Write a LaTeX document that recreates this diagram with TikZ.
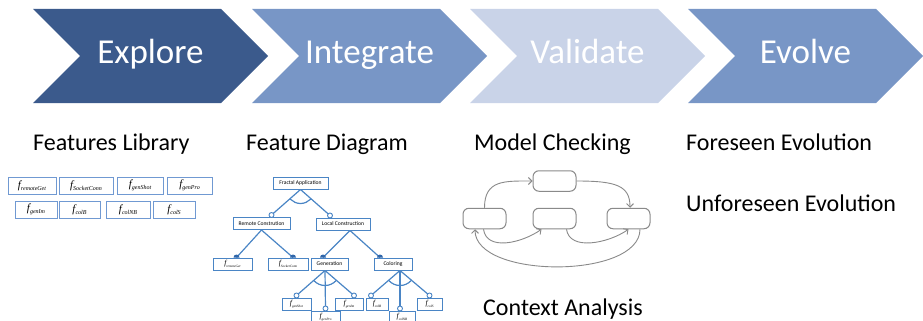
\documentclass[tikz,border=0pt]{standalone}
\usepackage{fontspec}
\setmainfont{Carlito}
\newfontfamily\fserif{Liberation Serif}
\usetikzlibrary{arrows.meta}

\definecolor{chevdark}{HTML}{3B5A8C}
\definecolor{chevmid}{HTML}{7896C6}
\definecolor{chevlight}{HTML}{C9D3E8}
\definecolor{fdblue}{HTML}{4A85C5}
\definecolor{fddot}{HTML}{2F66AA}
\definecolor{libblue}{HTML}{7099D2}
\definecolor{mcgray}{HTML}{8A8A8A}

% feature name with a subscript, library size and diagram size
\newcommand\libfeat[1]{{\fserif\itshape\fontsize{11}{11}\selectfont f}\raisebox{-2.5pt}{\fserif\itshape\fontsize{6}{6}\selectfont #1}}
\newcommand\leaffeat[1]{{\fserif\itshape\fontsize{7.5}{7.5}\selectfont f}\raisebox{-1.5pt}{\fserif\itshape\fontsize{3.4}{3.4}\selectfont #1}}

\tikzset{
  chevtext/.style={text=white, font=\fontsize{35}{42}\selectfont, anchor=base, inner sep=0pt},
  phase/.style={font=\fontsize{24}{29}\selectfont, anchor=base west, inner sep=0pt},
  libbox/.style={draw=libblue, line width=0.8pt, fill=white, minimum height=17pt, inner sep=0pt},
  fdbox/.style={draw=fdblue, line width=1pt, fill=white, minimum height=12pt, inner sep=0pt, font=\fontsize{5.6}{6}\selectfont},
  fdedge/.style={draw=fdblue, line width=1.2pt},
  optdot/.style={draw=fdblue, line width=0.9pt, fill=white},
  mandot/.style={fill=fddot},
  mcbox/.style={draw=mcgray, line width=1pt, fill=white, rounded corners=6pt, minimum width=43pt, minimum height=20.5pt},
  mcarrow/.style={draw=mcgray, line width=0.9pt, -{Straight Barb[length=3.5pt,width=7pt]}}
}

\begin{document}
\begin{tikzpicture}[x=1pt, y=-1pt]
\useasboundingbox (0,0) rectangle (923,321);

% process chevrons
\foreach \x/\c/\t/\n in {33/chevdark/Explore/explore, 252/chevmid/Integrate/integrate, 470/chevlight/Validate/validate, 688/chevmid/Evolve/evolve}{
  \fill[\c] (\x,9) -- ++(188,0) -- ++(47,47) -- ++(-47,47) -- ++(-188,0) -- ++(47,-47) -- cycle;
  \node[chevtext] (\n) at (\x+117.5,63.5) {\t};
}

% phase labels
\node[phase] (lib)     at (33,150.5)  {Features Library};
\node[phase] (fdiag)   at (246,150.5) {Feature Diagram};
\node[phase] (mcheck)  at (474,150.5) {Model Checking};
\node[phase] (foresee) at (686,150.5) {Foreseen Evolution};
\node[phase] (unfore)  at (686,211)   {Unforeseen Evolution};
\node[phase] (context) at (483,315)   {Context Analysis};

% features library
\node[libbox, minimum width=48pt] (l1) at (32,185.5)   {\libfeat{remoteGet}};
\node[libbox, minimum width=54pt] (l2) at (86,185.5)   {\libfeat{SocketConn}};
\node[libbox, minimum width=46pt] (l3) at (140,185.5)  {\libfeat{genShot}};
\node[libbox, minimum width=45pt] (l4) at (189.5,185.5){\libfeat{genPro}};
\node[libbox, minimum width=42pt] (l5) at (36,209.5)   {\libfeat{genIm}};
\node[libbox, minimum width=41pt] (l6) at (79.5,209.5) {\libfeat{colB}};
\node[libbox, minimum width=44pt] (l7) at (128,209.5)  {\libfeat{colNB}};
\node[libbox, minimum width=42pt] (l8) at (174,209.5)  {\libfeat{colS}};

% feature diagram boxes
\node[fdbox, minimum width=55pt] (fa)  at (300.5,183) {Fractal Application};
\node[fdbox, minimum width=57pt] (rc)  at (261.5,223.5) {Remote Constrution};
\node[fdbox, minimum width=54pt] (lc)  at (343,224) {Local Construction};
\node[fdbox, minimum width=39pt] (frg) at (232.5,264) {\leaffeat{remoteGet}};
\node[fdbox, minimum width=40pt] (fsc) at (288,264) {\leaffeat{SocketConn}};
\node[fdbox, minimum width=37pt] (gen) at (329.5,264) {Generation};
\node[fdbox, minimum width=38pt] (col) at (393,264) {Coloring};
\node[fdbox, minimum width=29pt] (fgs) at (296.5,304) {\leaffeat{genShot}};
\node[fdbox, minimum width=29pt] (fgp) at (325.5,317) {\leaffeat{genPro}};
\node[fdbox, minimum width=28pt] (fgi) at (349,304) {\leaffeat{genIm}};
\node[fdbox, minimum width=22pt] (fcb) at (377,304) {\leaffeat{colB}};
\node[fdbox, minimum width=26pt] (fcn) at (402,317) {\leaffeat{colNB}};
\node[fdbox, minimum width=25pt] (fcs) at (429.5,304) {\leaffeat{colS}};

% feature diagram edges
\draw[fdedge] (fa.south) -- ([xshift=10pt,yshift=2pt]rc.north);
\draw[fdedge] (fa.south) -- ([xshift=-13pt,yshift=2pt]lc.north);
\draw[fdedge] (rc.south) -- ([xshift=4pt]frg.north);
\draw[fdedge] (rc.south) -- ([xshift=5pt]fsc.north);
\draw[fdedge] ([xshift=7pt]lc.south) -- ([xshift=-6.5pt]gen.north);
\draw[fdedge] ([xshift=7pt]lc.south) -- ([xshift=-13pt]col.north);
\draw[fdedge] ([xshift=-4.5pt]gen.south) -- ([yshift=2pt]fgs.north);
\draw[fdedge] ([xshift=-4.5pt]gen.south) -- ([yshift=2pt]fgp.north);
\draw[fdedge] ([xshift=-4.5pt]gen.south) -- ([xshift=5pt,yshift=2pt]fgi.north);
\draw[fdedge] ([xshift=7pt]col.south) -- ([xshift=-6pt,yshift=2pt]fcb.north);
\draw[fdedge] ([xshift=7pt]col.south) -- ([xshift=-2pt,yshift=2pt]fcn.north);
\draw[fdedge] ([xshift=7pt]col.south) -- ([yshift=2pt]fcs.north);

% group arcs
\begin{scope}
  \clip (fa.south) -- ([xshift=10pt,yshift=2pt]rc.north) -- ([xshift=-13pt,yshift=2pt]lc.north) -- cycle;
  \draw[fdedge] (fa.south) circle[radius=14];
\end{scope}
\begin{scope}
  \clip ([xshift=-4.5pt]gen.south) -- ([yshift=2pt]fgs.north) -- ([xshift=5pt,yshift=2pt]fgi.north) -- cycle;
  \draw[fdedge] ([xshift=-4.5pt]gen.south) circle[radius=15];
\end{scope}
\begin{scope}
  \clip ([xshift=7pt]col.south) -- ([xshift=-6pt,yshift=2pt]fcb.north) -- ([yshift=2pt]fcs.north) -- cycle;
  \draw[fdedge] ([xshift=7pt]col.south) circle[radius=15];
\end{scope}

% optional markers (open circles)
\draw[optdot] ([xshift=10pt,yshift=2pt]rc.north) circle[radius=2.5];
\draw[optdot] ([xshift=-13pt,yshift=2pt]lc.north) circle[radius=2.5];
\draw[optdot] ([yshift=2pt]fgs.north) circle[radius=2.5];
\draw[optdot] ([yshift=2pt]fgp.north) circle[radius=2.5];
\draw[optdot] ([xshift=5pt,yshift=2pt]fgi.north) circle[radius=2.5];
\draw[optdot] ([xshift=-6pt,yshift=2pt]fcb.north) circle[radius=2.5];
\draw[optdot] ([xshift=-2pt,yshift=2pt]fcn.north) circle[radius=2.5];
\draw[optdot] ([yshift=2pt]fcs.north) circle[radius=2.5];

% mandatory markers (filled half discs on the box edge)
\foreach \b/\s in {frg/4, fsc/5, gen/-6.5, col/-13}{
  \fill[mandot] ([xshift=\s pt]\b.north) ++(-3,0) arc[start angle=180, end angle=360, radius=3] -- cycle;
}

% model checking state graph
\node[mcbox] (mt) at (554.5,181) {};
\node[mcbox] (ml) at (484.5,218.5) {};
\node[mcbox] (mm) at (554.5,218.5) {};
\node[mcbox] (mr) at (628.5,218.5) {};

\draw[mcarrow] (ml.north) .. controls +(0,-28) and +(-28,0) .. (mt.west);
\draw[mcarrow] (mt.east) .. controls +(40,0) and +(0,-22) .. ([xshift=1.5pt]mr.north);
\draw[mcarrow] ([xshift=-1pt]ml.south) .. controls +(3,22) and +(-20,14) .. ([xshift=-13pt]mm.south);
\draw[mcarrow] ([xshift=12pt]mm.south) .. controls +(3,22) and +(-20,14) .. (mr.south);
\draw[mcarrow] ([xshift=11.5pt]mr.south) .. controls +(0,50) and +(0,50) .. ([xshift=-9.5pt]ml.south);
\end{tikzpicture}
\end{document}
